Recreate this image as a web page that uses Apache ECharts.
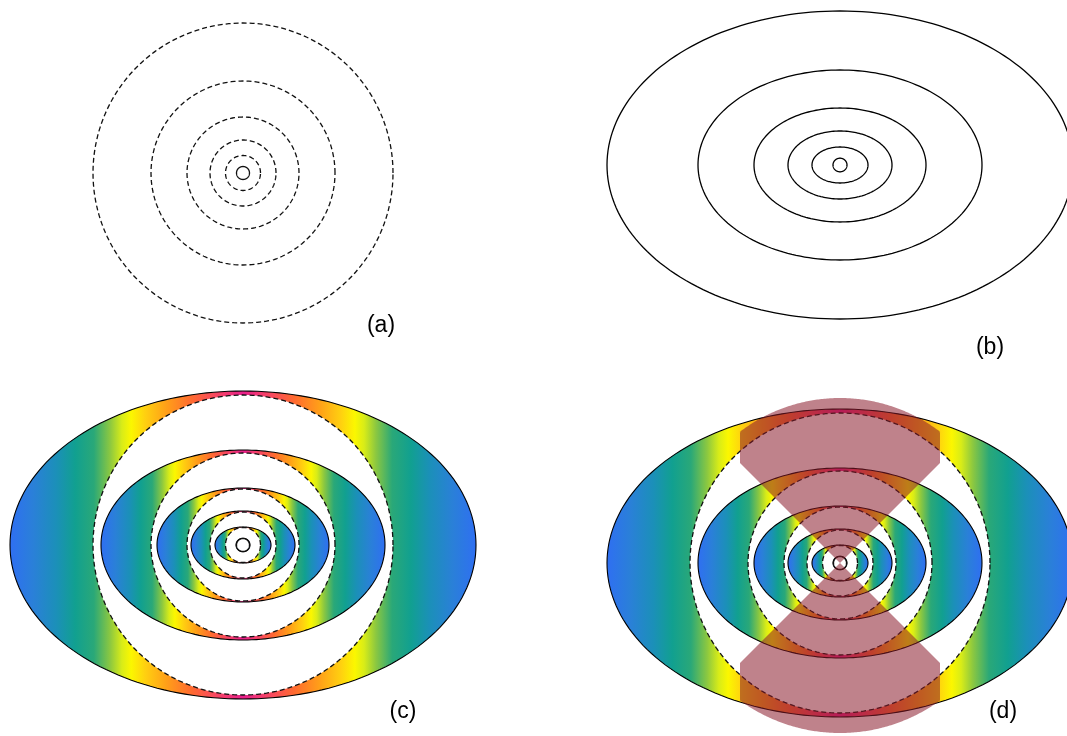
<!DOCTYPE html>
<html><head><meta charset="utf-8">
<script src="https://cdn.jsdelivr.net/npm/echarts@6/dist/echarts.min.js"></script>
<style>html,body{margin:0;padding:0;background:#fff}#c{width:1067px;height:736px}</style>
</head><body><div id="c"></div>
<script>
// ---- data (pixels relative to each panel centre) ----
const circleRadii = [150, 92, 56, 33, 17.5, 6.5];
const ellipseRx   = [233, 142, 86, 52, 28, 7];
const ellipseRy   = [154, 95, 57, 34, 18, 6.8];
const panelLabels = ['(a)', '(b)', '(c)', '(d)'];
// hatch lobes of panel (d): [outer radius, start angle, end angle]
const hatchRadius = [165, 170];
const hatchStart  = [45, 225];
const hatchEnd    = [135, 315];
const hatchHalfWidth = 100;
// colour map: t = |x| / rx of each ellipse
const colorT = [0, 0.12, 0.22, 0.33, 0.42, 0.48, 0.52, 0.57, 0.64, 0.72, 0.80, 0.90, 1];
const colorV = ['#e8208c', '#f84860', '#ff6a30', '#ffa018', '#ffd010', '#fbf700', '#d8ec18',
                '#8cc840', '#2aa878', '#11a090', '#1b90b8', '#2a80d8', '#2f6ff2'];

const stops = [];
for (let k = colorT.length - 1; k >= 0; k--) stops.push({offset: 0.5 - colorT[k] / 2, color: colorV[k]});
for (let k = 1; k < colorT.length; k++) stops.push({offset: 0.5 + colorT[k] / 2, color: colorV[k]});
const gradient = () => ({type: 'linear', x: 0, y: 0, x2: 1, y2: 0, colorStops: stops, global: false});

function ellPts(api, rx, ry) {
  const pts = [], n = 200;
  for (let k = 0; k < n; k++) {
    const a = 2 * Math.PI * k / n;
    pts.push(api.coord([rx * Math.cos(a), ry * Math.sin(a)]));
  }
  return pts;
}
const DASH = [5, 3];
const LINE = '#111';

function ringsRender(withFill) {
  return function (params, api) {
    const rx = api.value(0), ry = api.value(1), r = api.value(2);
    const E = ellPts(api, rx, ry), C = ellPts(api, r, r);
    const ch = [];
    if (withFill) {
      ch.push({type: 'polygon', shape: {points: E}, style: {fill: gradient(), stroke: null}});
      ch.push({type: 'polygon', shape: {points: C}, style: {fill: '#fff', stroke: null}});
    }
    ch.push({type: 'polygon', shape: {points: E}, style: {fill: null, stroke: '#000', lineWidth: 1.1}});
    ch.push({type: 'polygon', shape: {points: C}, style: {fill: null, stroke: LINE, lineWidth: 1.3, lineDash: r < 10 ? null : DASH}});
    return {type: 'group', children: ch};
  };
}
const ringData = ellipseRx.map((v, i) => [v, ellipseRy[i], circleRadii[i]]);

const grids = [
  {left: 83, top: 13, width: 320, height: 320},
  {left: 600, top: 5, width: 460, height: 320},
  {left: 3, top: 385, width: 480, height: 320},
  {left: 600, top: 393, width: 460, height: 340}
];
const xr = [[-160, 160], [-240, 220], [-240, 240], [-240, 220]];
const yr = [[-160, 160], [-160, 160], [-160, 160], [-170, 170]];

const option = {
  animation: false,
  grid: grids,
  xAxis: grids.map((g, i) => ({type: 'value', gridIndex: i, min: xr[i][0], max: xr[i][1], show: false})),
  yAxis: grids.map((g, i) => ({type: 'value', gridIndex: i, min: yr[i][0], max: yr[i][1], show: false})),
  series: [
    { type: 'custom', xAxisIndex: 0, yAxisIndex: 0, silent: true, clip: false,
      data: circleRadii.map(r => [r]),
      renderItem: (p, api) => ({type: 'polygon', shape: {points: ellPts(api, api.value(0), api.value(0))},
        style: {fill: null, stroke: LINE, lineWidth: 1.3, lineDash: api.value(0) < 10 ? null : DASH}}) },
    { type: 'custom', xAxisIndex: 1, yAxisIndex: 1, silent: true, clip: false,
      data: ellipseRx.map((v, i) => [v, ellipseRy[i]]),
      renderItem: (p, api) => ({type: 'polygon', shape: {points: ellPts(api, api.value(0), api.value(1))},
        style: {fill: null, stroke: '#000', lineWidth: 1.3}}) },
    { type: 'custom', xAxisIndex: 2, yAxisIndex: 2, silent: true, clip: false,
      data: ringData, renderItem: ringsRender(true) },
    { type: 'custom', xAxisIndex: 3, yAxisIndex: 3, silent: true, clip: false,
      data: ringData, renderItem: ringsRender(true) },
    { type: 'custom', xAxisIndex: 3, yAxisIndex: 3, silent: true, clip: false, z: 5,
      data: hatchRadius.map((R, i) => [R, hatchStart[i], hatchEnd[i]]),
      renderItem: (p, api) => {
        const R = api.value(0), s = api.value(1), e = api.value(2);
        const pts = [api.coord([0, 0])];
        for (let d = s; d <= e + 1e-9; d += 0.5) {
          const a = d * Math.PI / 180, c = Math.abs(Math.cos(a));
          const rho = c > 1e-6 ? Math.min(R, hatchHalfWidth / c) : R;
          pts.push(api.coord([rho * Math.cos(a), rho * Math.sin(a)]));
        }
        return {type: 'polygon', shape: {points: pts}, style: {fill: 'rgba(138,28,44,0.55)', stroke: null}};
      } }
  ],
  graphic: [
    [381, 326], [990, 348], [403, 712], [1003, 712]
  ].map((p, i) => ({type: 'text', x: p[0], y: p[1], silent: true,
      style: {text: panelLabels[i], font: '23px "Liberation Sans", Arial, sans-serif', fill: '#000',
              align: 'center', verticalAlign: 'middle'}}))
};
const chart = echarts.init(document.getElementById('c'), null, {renderer: 'canvas'});
chart.setOption(option);
</script></body></html>
